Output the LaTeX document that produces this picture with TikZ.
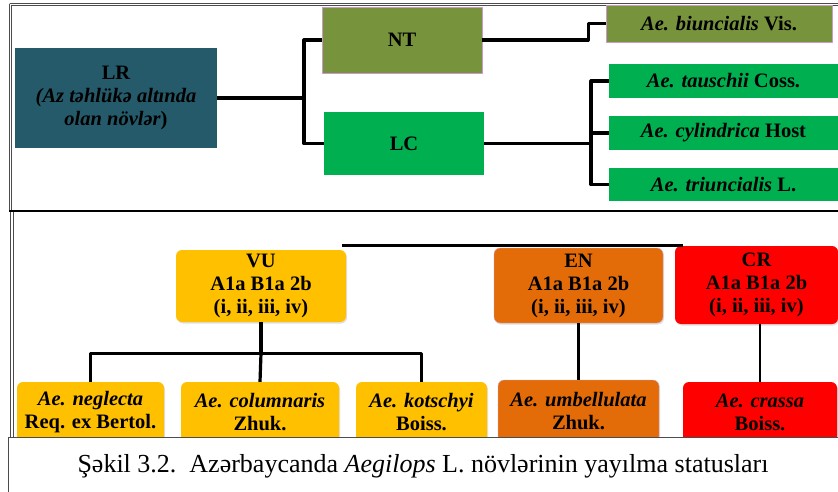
\documentclass[tikz,border=0pt]{standalone}
\usepackage{fontspec}
\setmainfont{Liberation Serif}
\usetikzlibrary{shadows}
\definecolor{lrteal}{HTML}{245A6A}
\definecolor{ntolive}{HTML}{77933C}
\definecolor{lcgreen}{HTML}{00B050}
\definecolor{vuamber}{HTML}{FFC000}
\definecolor{enorange}{HTML}{E36C09}
\definecolor{crred}{HTML}{FF0000}
\begin{document}
\begin{tikzpicture}[x=1pt, y=-1pt, line join=round,
	box/.style={inner sep=0pt, align=center, font=\fontsize{20.5}{23}\selectfont\bfseries},
	sq/.style={box, rectangle},
	rbox/.style={box, rounded corners=6pt, drop shadow={opacity=.25, shadow xshift=1pt, shadow yshift=-1.5pt}},
	link/.style={line width=3.2pt},
	frame/.style={draw=gray!60!black, double=white, double distance=1.6pt, line width=.9pt}]
	\useasboundingbox (0,0) rectangle (838,492);
	% frames
	\draw[frame] (10.5,211) |- (840,4.5);
	\draw[frame] (12,211) -- (12,440);
	\draw[line width=1.3pt] (9,211) -- (838,211);
	% upper tree
	\node[sq, fill=lrteal, minimum width=202, minimum height=100] (LR) at (116,98) {LR\\{\itshape(Az təhlükə altında}\\{\itshape olan növlər})};
	\node[sq, fill=ntolive, draw=violet!40, minimum width=160, minimum height=66] (NT) at (402,40) {NT};
	\node[sq, fill=lcgreen, minimum width=160, minimum height=63] (LC) at (404,143.5) {LC};
	\node[sq, fill=ntolive, draw=violet!40, minimum width=226, minimum height=37] (biun) at (719,23.5) {\textit{Ae. biuncialis} Vis.};
	\node[sq, fill=lcgreen, minimum width=229, minimum height=34] (taus) at (723.5,81) {\textit{Ae. tauschii} Coss.};
	\node[sq, fill=lcgreen, minimum width=229, minimum height=34] (cyl) at (723.5,133) {\textit{Ae. cylindrica} Host};
	\node[sq, fill=lcgreen, minimum width=229, minimum height=33] (triu) at (723.5,184.5) {\textit{Ae. triuncialis} L.};
	\coordinate (f1) at (304,98);
	\coordinate (f2) at (591,133);
	\draw[link] (LR.east) -- (f1);
	\draw[link] (NT.west) -| (f1) |- (LC.west);
	\draw[link] (NT.east) -- ++(106,0) |- (biun.west);
	\draw[link] (LC.east) -- (LC.east -| f2);
	\draw[link] (taus.west) -| (f2) |- (triu.west);
	\draw[link] (f2 |- cyl.west) -- (cyl.west);
	% lower tree
	\node[rbox, fill=vuamber, minimum width=170, minimum height=72] (VU) at (261,286) {VU\\A1a B1a 2b\\(i, ii, iii, iv)};
	\node[rbox, fill=enorange, draw=violet!35, minimum width=169, minimum height=75] (EN) at (578.5,285.5) {EN\\A1a B1a 2b\\(i, ii, iii, iv)};
	\node[rbox, fill=crred, minimum width=163, minimum height=78] (CR) at (756.5,285) {CR\\A1a B1a 2b\\(i, ii, iii, iv)};
	\node[rbox, fill=vuamber, minimum width=147, minimum height=60] (neg) at (90.5,412) {\textit{Ae. neglecta}\\Req. ex Bertol.};
	\node[rbox, fill=vuamber, minimum width=158, minimum height=60] (col) at (260,412) {\textit{Ae. columnaris}\\Zhuk.};
	\node[rbox, fill=vuamber, minimum width=131, minimum height=60] (kot) at (421.5,412) {\textit{Ae. kotschyi}\\Boiss.};
	\node[rbox, fill=enorange, draw=violet!35, minimum width=161, minimum height=62] (umb) at (578.5,411) {\textit{Ae. umbellulata}\\Zhuk.};
	\node[rbox, fill=crred, minimum width=154, minimum height=60] (cra) at (760,412) {\textit{Ae. crassa}\\Boiss.};
	\draw[link] ([xshift=-4]VU.north east |- CR.north) -- ([xshift=8]CR.north west);
	\draw[link] (VU.south) -- ++(0,31) coordinate (f3);
	\draw[link] (neg.north) |- (f3) -| (kot.north);
	\draw[link] (f3) -- (col.north);
	\draw[line width=2.8pt] (EN.south) -- (umb.north);
	\draw[line width=2.8pt] (cra.north) -- (cra.north |- CR.south);
	% caption
	\fill[white] (8,437) rectangle (838,492);
	\draw[gray!60!black, line width=.9pt] (838,437) -- (8.5,437) -- (8.5,492);
	\node[font=\fontsize{26}{28}\selectfont] (cap) at (423,466) {Şəkil 3.2.\ \ Azərbaycanda \textit{Aegilops} L. növlərinin yayılma statusları};
\end{tikzpicture}
\end{document}
